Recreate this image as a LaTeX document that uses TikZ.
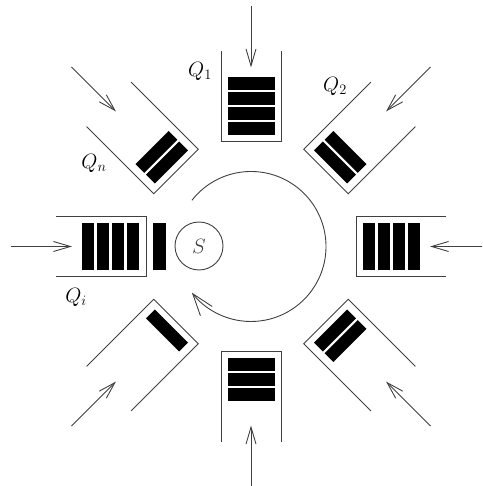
\documentclass[tikz,border=0pt]{standalone}
\usepackage{tikz}
\usetikzlibrary{arrows.meta}

\begin{document}
\begin{tikzpicture}[x=1pt,y=1pt,
    wall/.style={line width=0.9pt, black!75},
    bar/.style={fill=black},
    feed/.style={line width=0.9pt, black!75, -{Straight Barb[length=17pt,width=10pt]}},
    turn/.style={line width=0.9pt, black!75, -{Straight Barb[length=22pt,width=15pt]}},
    qlabel/.style={font=\fontsize{22}{26}\selectfont}]
    \clip (-251,-239.5) rectangle (231,246.5);

    % queues around the server: angle/bars/closed end/open end/half width/arrow tail/arrow tip
    \foreach \qa/\qn/\qc/\qo/\qw/\qs/\qt in {0/4/105/195/30/240/179, 45/2/106/201/31.5/254/191,
        90/4/105/195/30/240/179, 135/2/106/201/31.5/254/191, 180/4/105/195/30/240/179,
        225/1/106/201/31.5/254/191, 270/3/105/195/30/240/179, 315/2/106/201/31.5/254/191} {
        \begin{scope}[rotate=\qa]
            \draw[wall] (\qo,\qw) -- (\qc,\qw) -- (\qc,-\qw) -- (\qo,-\qw);
            \foreach \k in {1,...,\qn}
                \fill[bar] ({\qc+6.5+(\k-1)*15},-23.5) rectangle ({\qc+19+(\k-1)*15},23.5);
        \end{scope}
        % arrivals
        \coordinate (tail\qa) at (\qa:\qs);
        \coordinate (tip\qa) at (\qa:\qt);
        \draw[feed] (tail\qa) -- (tip\qa);
    }

    % job in service
    \fill[bar] (-98,-23.5) rectangle (-85,23.5);
    \node[circle, draw, wall, minimum size=48pt, inner sep=0pt, qlabel] (server) at (-52,0.5) {$S$};

    % polling cycle
    \coordinate (loopstart) at (142:75);
    \draw[turn] (loopstart) arc[start angle=142, end angle=-142, radius=75];

    % queue labels
    \node[qlabel] (q1) at (-51,175.5) {$Q_1$};
    \node[qlabel] (q2) at (84,160.5) {$Q_2$};
    \node[qlabel] (qn) at (-157,83.5) {$Q_n$};
    \node[qlabel] (qi) at (-175,-50.5) {$Q_i$};
\end{tikzpicture}
\end{document}
